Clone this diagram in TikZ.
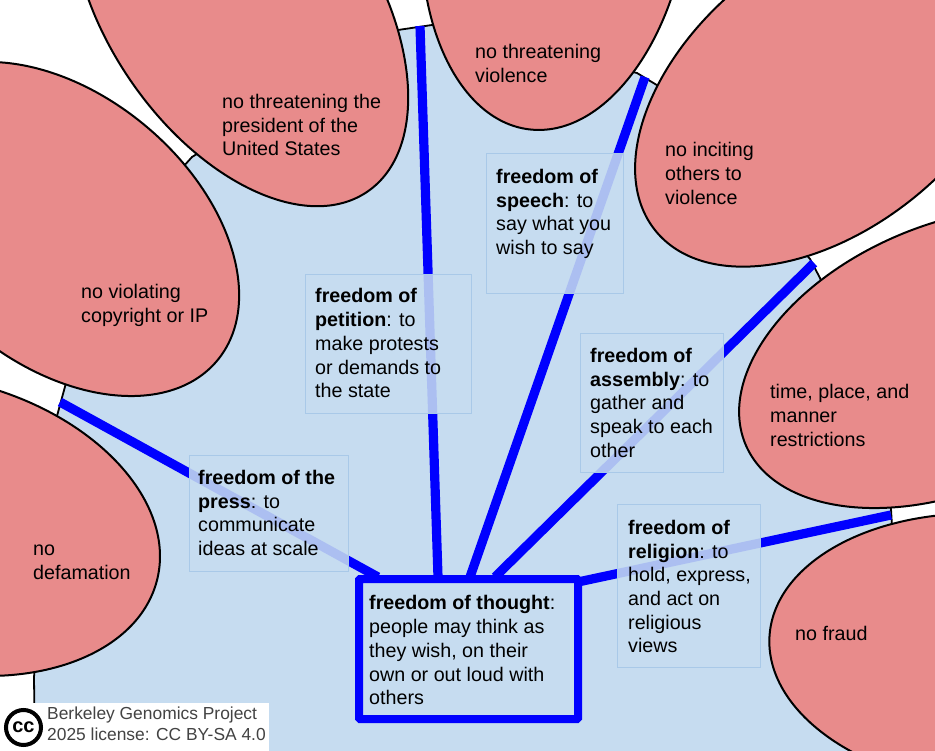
\documentclass[tikz,border=0pt]{standalone}
\usepackage{fontspec}
\setmainfont{Liberation Sans}
\usetikzlibrary{shapes.geometric}
\definecolor{skyfill}{HTML}{C6DCF0}
\definecolor{petalfill}{HTML}{E88B8B}
\definecolor{linkblue}{HTML}{0000FF}
\definecolor{boxedge}{HTML}{A9C9E8}
\definecolor{credit}{HTML}{434343}
\tikzset{
  petal/.style={ellipse,draw=black,fill=petalfill,line width=2pt,inner sep=0pt,outer sep=0pt},
  link/.style={draw=linkblue,line width=9.2pt},
  ideabox/.style={rectangle,anchor=north west,inner sep=0pt,fill=skyfill,fill opacity=0.87,draw=boxedge,line width=1.3pt},
  words/.style={anchor=north west,inner sep=0pt,align=left,font=\fontsize{19.7}{23.7}\selectfont,
    execute at begin node={\rule{0pt}{14pt}}},
}
\begin{document}
\begin{tikzpicture}[x=1pt,y=-1pt]
\useasboundingbox (0,0) rectangle (935,751);
\fill[white] (0,0) rectangle (935,751);
\begin{scope}
\clip (0,0) rectangle (935,751);
\filldraw[fill=skyfill,draw=black,line width=1.8pt]
 (35,760) -- (34,677) -- (57,416) -- (66,383) -- (183,167) -- (192,157) -- (398,30) -- (432,25)
 -- (637,73) -- (660,87) -- (810,259) -- (820,278) -- (891,509) -- (892,526) -- (960,760) -- cycle;
\node[petal,minimum width=410pt,minimum height=268pt,rotate=-40] (violating) at (60,229) {};
\node[petal,minimum width=452pt,minimum height=266pt,rotate=-55.7] (president) at (240,5) {};
\node[petal,minimum width=444pt,minimum height=266pt,rotate=83] (violence) at (556,-91) {};
\node[petal,minimum width=444pt,minimum height=274pt,rotate=39] (inciting) at (828,91) {};
\node[petal,minimum width=444pt,minimum height=266pt,rotate=23] (tpm) at (950,358) {};
\node[petal,minimum width=444pt,minimum height=274pt,rotate=-4] (fraud) at (991,651) {};
\node[petal,minimum width=444pt,minimum height=290pt,rotate=-14.5] (defamation) at (-58,525) {};
\end{scope}
% connectors
\node[rectangle,anchor=north west,draw=linkblue,line width=8pt,rounded corners=1pt,minimum width=219pt,minimum height=140pt,inner sep=0pt] (thought) at (355,575) {};
\coordinate (pressend) at (60,402);
\coordinate (petitionend) at (420,26);
\coordinate (speechend) at (645,77);
\coordinate (assemblyend) at (814,263);
\coordinate (religionend) at (891,515);
\coordinate (tpress) at (378,577);
\coordinate (tpetition) at (438,577);
\coordinate (tspeech) at (470,577);
\coordinate (tassembly) at (495,577);
\coordinate (treligion) at (578,582);
\draw[link] (tpress) -- (pressend);
\draw[link] (tpetition) -- (petitionend);
\draw[link] (tspeech) -- (speechend);
\draw[link] (tassembly) -- (assemblyend);
\draw[link] (treligion) -- (religionend);
% idea boxes
\node[ideabox,minimum width=159pt,minimum height=116pt] (pressbox) at (189,455) {};
\node[ideabox,minimum width=166pt,minimum height=139pt] (petitionbox) at (305,274) {};
\node[ideabox,minimum width=137pt,minimum height=140pt] (speechbox) at (486,153) {};
\node[ideabox,minimum width=143pt,minimum height=139pt] (assemblybox) at (580,333) {};
\node[ideabox,minimum width=143pt,minimum height=163pt] (religionbox) at (617,504) {};
% texts
\node[words] (presstext) at (198,470) {\textbf{freedom of the}\\\textbf{press}: to\\communicate\\ideas at scale};
\node[words] (petitiontext) at (315,288.5) {\textbf{freedom of}\\\textbf{petition}: to\\make protests\\or demands to\\the state};
\node[words] (speechtext) at (496,169) {\textbf{freedom of}\\\textbf{speech}: to\\say what you\\wish to say};
\node[words] (assemblytext) at (590,348) {\textbf{freedom of}\\\textbf{assembly}: to\\gather and\\speak to each\\other};
\node[words] (religiontext) at (628,520) {\textbf{freedom of}\\\textbf{religion}: to\\hold, express,\\and act on\\religious\\views};
\node[words] (thoughttext) at (369,595.5) {\textbf{freedom of thought}:\\people may think as\\they wish, on their\\own or out loud with\\others};
\node[words] (t1) at (81,284) {no violating\\copyright or IP};
\node[words] (t2) at (222,94) {no threatening the\\president of the\\United States};
\node[words] (t3) at (475,44) {no threatening\\violence};
\node[words] (t4) at (665,142.5) {no inciting\\others to\\violence};
\node[words] (t5) at (770,384.5) {time, place, and\\manner\\restrictions};
\node[words] (t6) at (795,626) {no fraud};
\node[words] (t7) at (33,545) {no\\defamation};
% credit
\fill[white] (0,703) rectangle (269,751);
\node[circle,draw=black,line width=4pt,minimum size=35pt,inner sep=0pt,font=\fontsize{20}{20}\bfseries\selectfont] (ccmark) at (23.5,727.5) {cc};
\node[anchor=north west,inner sep=0pt,align=left,text=credit,font=\fontsize{17.4}{21}\selectfont] (credittext) at (47,707) {Berkeley Genomics Project\\2025 license: CC BY-SA 4.0};
\end{tikzpicture}
\end{document}
